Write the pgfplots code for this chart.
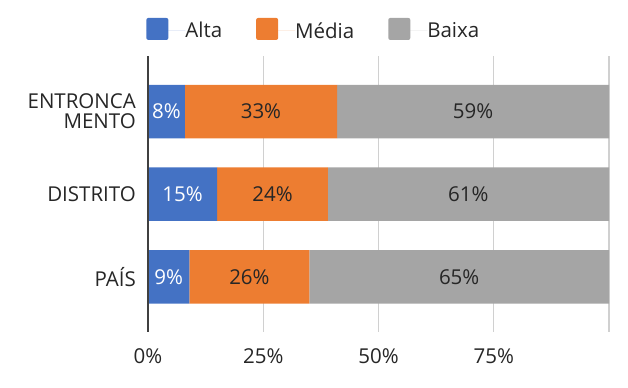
\documentclass[border=0pt]{standalone}
\usepackage{fontspec}
\setmainfont{Open Sans}
\usepackage{pgfplots}
\pgfplotsset{compat=1.18}
\definecolor{cAlta}{HTML}{4472C4}
\definecolor{cMedia}{HTML}{ED7D31}
\definecolor{cBaixa}{HTML}{A5A5A5}
\definecolor{txt}{HTML}{262626}
\definecolor{gridc}{HTML}{D0D0D0}
\begin{document}
\begin{tikzpicture}
\useasboundingbox (0,0) rectangle (628bp,388bp);
\pgfplotsset{
  base/.style={
    at={(148bp,56bp)}, anchor=south west,
    scale only axis, width=461bp, height=276bp,
    xmin=0, xmax=100, ymin=-0.668, ymax=2.674,
    /pgf/number format/assume math mode=true,
    font=\fontsize{20.5bp}{20bp}\selectfont,
  }
}
\begin{axis}[base,
  xbar stacked, bar width=53.5bp,
  axis line style={draw=none},
  xtick={0,25,50,75,100},
  xticklabels={0\%,25\%,50\%,75\%,},
  ytick={0,1,2},
  yticklabels={PAÍS,DISTRITO,{ENTRONCA\\MENTO}},
  major tick length=0pt,
  xmajorgrids, major grid style={gridc, line width=1.3bp},
  xticklabel style={text=txt, anchor=north, inner sep=0pt, yshift=-16bp},
  yticklabel style={text=txt, anchor=east, inner sep=0pt, xshift=-12bp, align=right},
  legend columns=3,
  legend style={at={(-0.004,1.098)}, anchor=west, draw=none, fill=none,
    inner sep=0pt, nodes={inner sep=0pt, text=txt},
    /tikz/every even column/.append style={column sep=34bp}},
  legend image code/.code={\fill[#1, draw=none, rounded corners=2bp] (0bp,-9bp) rectangle (22bp,13bp); \path (0bp,0bp) -- (39bp,0bp);},
]
\addplot[fill=cAlta, draw=none] coordinates {(9,0) (15,1) (8,2)};
\addplot[fill=cMedia, draw=none] coordinates {(26,0) (24,1) (33,2)};
\addplot[fill=cBaixa, draw=none] coordinates {(65,0) (61,1) (59,2)};
\legend{Alta,Média,Baixa}
\end{axis}
\begin{axis}[base,
  axis x line=none, axis y line*=left,
  y axis line style={draw=black!75, line width=1.8bp},
  xtick=\empty, ytick=\empty,
  nodes near coords={\pgfmathprintnumber{\pgfplotspointmeta}\%},
  nodes near coords style={anchor=center, inner sep=0pt},
  point meta=explicit,
]
\addplot[draw=none, mark=none, nodes near coords style={text=white}] table[meta=v] {
x y v
4.5 0 9
7.5 1 15
4 2 8
};
\addplot[draw=none, mark=none, nodes near coords style={text=txt}] table[meta=v] {
x y v
22 0 26
27 1 24
24.5 2 33
67.5 0 65
69.5 1 61
70.5 2 59
};
\end{axis}
\end{tikzpicture}
\end{document}
